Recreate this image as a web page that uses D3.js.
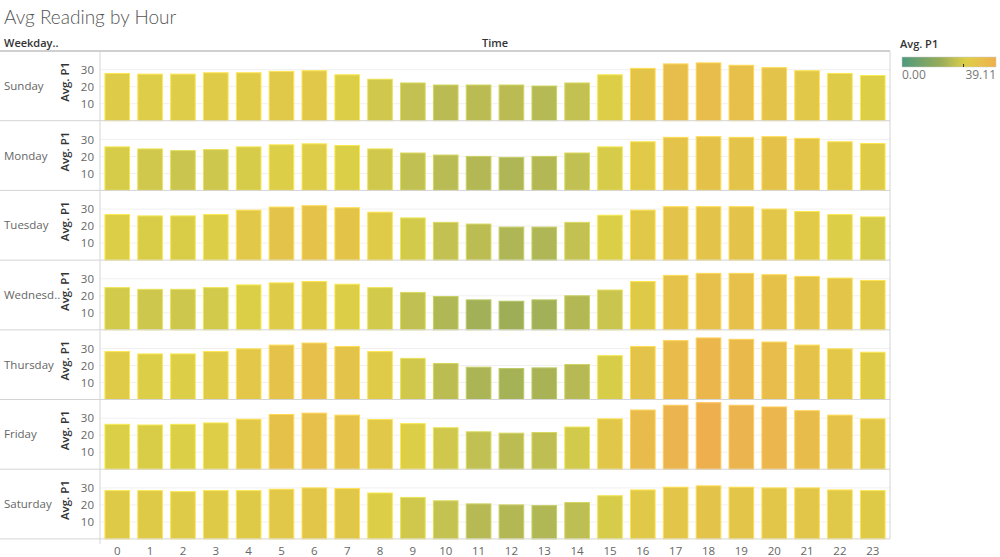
<!DOCTYPE html>
<html><head><meta charset="utf-8">
<script src="https://cdn.jsdelivr.net/npm/d3@7"></script>
<style>
html,body{margin:0;padding:0;background:#fff;}
svg{display:block;font-family:"Open Sans","Noto Sans",sans-serif;}
</style></head>
<body><svg id="chart" width="1000" height="557"></svg>
<script>
const weekdays = ["Sunday","Monday","Tuesday","Wednesday","Thursday","Friday","Saturday"];
const rowLabels = ["Sunday","Monday","Tuesday","Wednesd..","Thursday","Friday","Saturday"];
const hours = [0,1,2,3,4,5,6,7,8,9,10,11,12,13,14,15,16,17,18,19,20,21,22,23];
const yTicks = [10,20,30];
const sunday    = [27.8,27.4,27.4,28.2,28.2,29.0,29.4,27.0,24.4,22.2,21.0,21.0,21.0,20.4,22.2,27.0,30.8,33.4,34.0,32.6,31.2,29.4,27.8,26.6];
const monday    = [25.6,24.4,23.4,24.0,25.6,26.8,27.4,26.4,24.4,22.0,20.8,20.0,19.4,20.0,22.0,25.6,28.6,31.2,31.6,31.2,31.6,30.6,28.6,27.6];
const tuesday   = [26.8,26.0,26.0,26.8,29.4,31.2,32.0,30.8,28.2,24.8,22.2,21.2,19.4,19.4,22.2,26.4,29.4,31.4,31.4,31.4,30.0,28.6,26.8,25.4];
const wednesday = [24.8,23.8,23.8,24.8,26.4,27.6,28.4,26.8,24.8,22.0,19.6,17.6,16.8,17.6,20.0,23.4,28.4,32.0,33.2,33.2,32.4,31.4,30.4,29.0];
const thursday  = [28.2,26.8,26.8,28.2,29.8,32.0,33.2,31.2,28.2,24.2,21.2,19.0,18.2,18.6,20.6,25.8,31.2,34.6,36.2,35.4,33.8,32.0,29.8,27.8];
const friday    = [26.4,26.0,26.4,27.2,29.4,32.2,33.0,31.8,29.2,26.8,24.4,22.0,21.2,21.6,24.8,29.6,34.8,37.6,39.11,37.6,36.6,34.4,31.8,29.6];
const saturday  = [28.4,28.4,27.8,28.4,28.4,29.2,30.0,29.6,27.0,24.4,22.4,20.6,20.0,19.6,21.4,25.4,28.8,30.4,31.2,30.4,30.0,30.0,28.8,28.4];
const series = [sunday,monday,tuesday,wednesday,thursday,friday,saturday];
const colorMin = 0, colorMax = 39.11, colorCenter = 25.6;

const svg = d3.select("#chart");
const plotL = 100, plotR = 890, top0 = 51, rowH = 69.7;

const cStops = [0, 16, 20, 23, 26.5, 30, 34, 39.11];
const cCols = ["#4e9a7e","#97ab58","#b3b855","#c8c450","#dccf47","#e2c649","#e8bd4b","#eeb04f"];
const color = d3.scaleLinear().domain(cStops).range(cCols).interpolate(d3.interpolateRgb).clamp(true);

const x = d3.scaleBand().domain(hours).range([plotL, plotR]).paddingInner(0.25).paddingOuter(0.15);

svg.append("text").attr("x",4).attr("y",24).attr("font-family","Lato, 'Open Sans', sans-serif")
  .attr("font-weight",300).attr("font-size",19).attr("fill","#555").text("Avg Reading by Hour");
svg.append("text").attr("x",4).attr("y",47).attr("font-size",11).attr("font-weight",600).attr("fill","#333").text("Weekday..");
svg.append("text").attr("x",(plotL+plotR)/2).attr("y",47).attr("text-anchor","middle").attr("font-size",11).attr("font-weight",600).attr("fill","#333").text("Time");

weekdays.forEach((day, i) => {
  const rTop = top0 + i*rowH, rBot = rTop + rowH;
  const y = d3.scaleLinear().domain([0, 41]).range([rBot, rTop]);
  const g = svg.append("g");
  g.selectAll("line.grid").data(yTicks).join("line")
    .attr("x1",plotL).attr("x2",plotR).attr("y1",d=>y(d)).attr("y2",d=>y(d))
    .attr("stroke","#f0f0f0").attr("stroke-width",1);
  const ax = g.append("g").attr("transform",`translate(${plotL-4},0)`)
    .call(d3.axisLeft(y).tickValues(yTicks).tickSize(0).tickPadding(2));
  ax.select(".domain").remove();
  ax.selectAll("text").attr("font-size",11.5).attr("fill","#666").attr("font-family","'Open Sans',sans-serif");
  g.append("text").attr("transform",`translate(${69},${rTop+rowH/2-4}) rotate(-90)`)
    .attr("text-anchor","middle").attr("font-size",11.5).attr("font-weight",600).attr("fill","#333").text("Avg. P1");
  g.append("text").attr("x",4).attr("y",rTop+rowH/2+4).attr("font-size",11.5).attr("fill","#666").text(rowLabels[i]);
  g.selectAll("rect.bar").data(series[i]).join("rect")
    .attr("x",(d,j)=>x(hours[j])).attr("width",x.bandwidth())
    .attr("y",d=>y(d)).attr("height",d=>rBot-y(d))
    .attr("fill",d=>color(d))
    .attr("stroke",d=>d3.color(color(d)).brighter(0.35)).attr("stroke-width",1);
});

const sepYs = d3.range(8).map(i => top0 + i*rowH);
svg.selectAll("line.sep").data(sepYs).join("line")
  .attr("x1",0).attr("x2",plotR).attr("y1",d=>d).attr("y2",d=>d)
  .attr("stroke",(d,i)=> i===0 ? "#d0d0d0" : "#d4d4d4").attr("stroke-width",(d,i)=> i===0 ? 2 : 1);
const bottomY = top0 + 7*rowH;
svg.append("line").attr("x1",plotL).attr("x2",plotL).attr("y1",top0).attr("y2",bottomY+5).attr("stroke","#d4d4d4");
svg.append("line").attr("x1",plotR).attr("x2",plotR).attr("y1",top0).attr("y2",bottomY).attr("stroke","#d4d4d4");

const xa = svg.append("g").attr("transform",`translate(0,${bottomY})`)
  .call(d3.axisBottom(x).tickSize(0).tickPadding(8));
xa.select(".domain").remove();
xa.selectAll("text").attr("font-size",11.5).attr("fill","#666").attr("font-family","'Open Sans',sans-serif");

const lg = svg.append("g");
lg.append("text").attr("x",900).attr("y",48).attr("font-size",11).attr("font-weight",600).attr("fill","#333").text("Avg. P1");
const defs = svg.append("defs");
const grad = defs.append("linearGradient").attr("id","lgGrad").attr("x1","0%").attr("x2","100%");
d3.range(0,1.0001,0.05).forEach(t => {
  grad.append("stop").attr("offset",(t*100)+"%").attr("stop-color",color(colorMin + t*(colorMax-colorMin)));
});
const lx0 = 902, lx1 = 996;
lg.append("rect").attr("x",lx0).attr("y",57).attr("width",lx1-lx0).attr("height",10)
  .attr("fill","url(#lgGrad)").attr("stroke","#ccc").attr("stroke-width",0.5);
const lScale = d3.scaleLinear().domain([colorMin,colorMax]).range([lx0,lx1]);
lg.append("line").attr("x1",lScale(colorCenter)).attr("x2",lScale(colorCenter)).attr("y1",64).attr("y2",67).attr("stroke","#333");
lg.append("text").attr("x",lx0).attr("y",79).attr("font-size",12).attr("fill","#777").text(d3.format(".2f")(colorMin));
lg.append("text").attr("x",lx1).attr("y",79).attr("text-anchor","end").attr("font-size",12).attr("fill","#777").text(d3.format(".2f")(colorMax));
</script></body></html>
